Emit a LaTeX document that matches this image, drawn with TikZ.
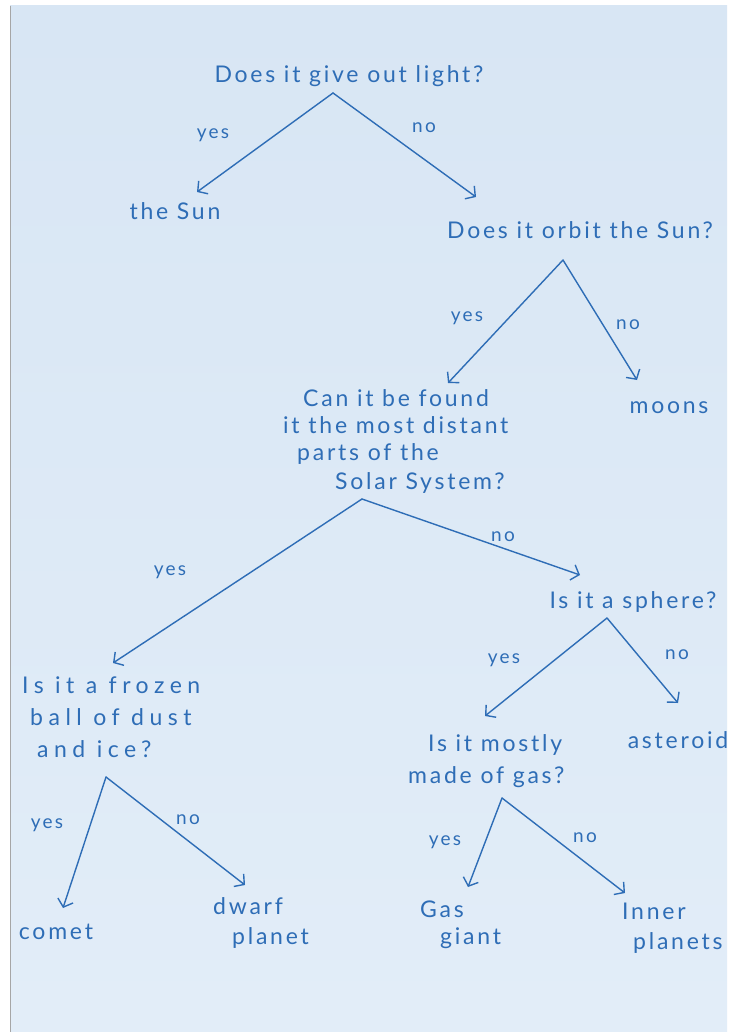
\documentclass[tikz,border=0pt]{standalone}
\usepackage{fontspec}
\setmainfont{Lato}
\usetikzlibrary{arrows.meta,calc}
\definecolor{ink}{HTML}{2E6DB6}
\definecolor{paper}{HTML}{D8E6F4}
\definecolor{paperlow}{HTML}{E2EDF8}
\tikzset{
  q/.style={text=ink, font=\fontsize{23}{27}\selectfont\addfontfeature{LetterSpace=12}, inner sep=0pt},
  qwide/.style={text=ink, font=\fontsize{23}{27}\selectfont\addfontfeature{LetterSpace=24}, inner sep=0pt},
  lbl/.style={text=ink, font=\fontsize{19}{22}\selectfont\addfontfeature{LetterSpace=12}, inner sep=0pt},
  arr/.style={draw=ink, line width=1.4pt, line cap=round, -{Straight Barb[length=7pt,width=16pt,line width=1.4pt]}}
}
\begin{document}
\begin{tikzpicture}[x=1pt,y=-1pt]
\useasboundingbox (0,0) rectangle (739,1032);
\fill[white] (0,0) rectangle (739,1032);
\shade[top color=paper, bottom color=paperlow] (10,6) rectangle (727,1032);
\draw[gray!70, line width=1pt] (10,6) -- (10,1032);

% nodes
\node[q] (q1) at (349,76) {Does it give out light?};
\node[q] (sun) at (175,211) {the Sun};
\node[q] (q2) at (580,230) {Does it orbit the Sun?};
\node[q] (moons) at (669,408) {moons};
\node[q, anchor=north west, align=left] (q3) at (283,389) {\hspace*{20pt}Can it be found\\it the most distant\\\hspace*{14pt}parts of the\\[2pt]\hspace*{52pt}Solar System?};
\node[q] (q4) at (633,602) {Is it a sphere?};
\node[qwide, anchor=north west, align=left] (q5) at (22,677) {Is it a frozen\\[5pt]\hspace*{8pt}ball of dust\\[5pt]\hspace*{15pt}and ice?};
\node[q] (ast) at (678,740) {asteroid};
\node[q, anchor=north west, align=left] (q6) at (408,734) {\hspace*{20pt}Is it mostly\\[5pt]made of gas?};
\node[q] (comet) at (56,932) {comet};
\node[q, anchor=north west, align=left] (dwarf) at (213,897) {dwarf\\[3pt]\hspace*{19pt}planet};
\node[q, anchor=north west, align=left] (gas) at (420,901) {Gas\\\hspace*{20pt}giant};
\node[q, anchor=north west, align=left] (inner) at (622,903) {Inner\\[3pt]\hspace*{11pt}planets};

% apex points
\coordinate (a1) at (333,93);
\coordinate (a2) at (563,260);
\coordinate (a3) at (362,499);
\coordinate (a4) at (607,618);
\coordinate (a5) at (106,777);
\coordinate (a6) at (502,798);

% arrows
\draw[arr] (a1) -- ($(sun)+(22,-19)$);
\draw[arr] (a1) -- ($(q2)+(-104,-33)$);
\draw[arr] (a2) -- ($(q3.north west)+(165,-6)$);
\draw[arr] (a2) -- ($(moons)+(-32,-28)$);
\draw[arr] (a3) -- ($(q5.north west)+(91,-14)$);
\draw[arr] (a3) -- ($(q4)+(-53,-27)$);
\draw[arr] (a4) -- ($(q6.north west)+(77,-18)$);
\draw[arr] (a4) -- ($(ast)+(0,-37)$);
\draw[arr] (a5) -- ($(comet)+(7,-24)$);
\draw[arr] (a5) -- ($(dwarf.north west)+(32,-12)$);
\draw[arr] (a6) -- ($(gas.north west)+(48,-14)$);
\draw[arr] (a6) -- ($(inner.north west)+(3,-10)$);

% labels
\node[lbl] (l1) at (213,135) {yes};
\node[lbl] (l2) at (424,128) {no};
\node[lbl] (l3) at (467,318) {yes};
\node[lbl] (l4) at (628,325) {no};
\node[lbl] (l5) at (170,572) {yes};
\node[lbl] (l6) at (503,537) {no};
\node[lbl] (l7) at (504,660) {yes};
\node[lbl] (l8) at (677,655) {no};
\node[lbl] (l9) at (47,825) {yes};
\node[lbl] (l10) at (188,820) {no};
\node[lbl] (l11) at (445,842) {yes};
\node[lbl] (l12) at (585,838) {no};
\end{tikzpicture}
\end{document}
